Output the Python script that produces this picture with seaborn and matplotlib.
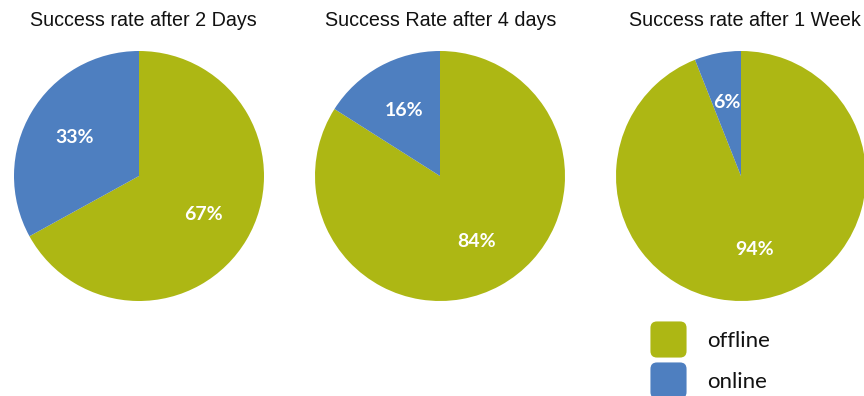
import matplotlib
matplotlib.use("Agg")
import matplotlib.pyplot as plt
import seaborn as sns
from matplotlib.lines import Line2D
from matplotlib.patches import BoxStyle

sns.set_theme(style="white")
plt.rcParams['font.family'] = ['Liberation Sans', 'DejaVu Sans']

titles = ["Success rate after 2 Days", "Success Rate after 4 days", "Success rate after 1 Week"]
categories = ["offline", "online"]
offline = [67, 84, 94]
online = [33, 16, 6]
colors = ["#ADB714", "#4E7FC0"]

W, H = 864, 396
fig = plt.figure(figsize=(W / 100, H / 100), dpi=100)

centers_x = [139, 440, 741]
title_x = [143, 441, 745]
R = 125
cy = 176

for i in range(3):
    ax = fig.add_axes([(centers_x[i] - R) / W, (H - cy - R) / H, 2 * R / W, 2 * R / H])
    vals = [offline[i], online[i]]
    wedges, texts, autotexts = ax.pie(
        vals, colors=colors, startangle=90, counterclock=False,
        autopct=lambda p: f"{p:.0f}%", pctdistance=0.6,
        wedgeprops=dict(linewidth=0),
        textprops=dict(color="white", fontsize=14, fontweight="bold", family="Lato"),
    )
    ax.set_xlim(-1, 1)
    ax.set_ylim(-1, 1)
    ax.set_aspect("equal")
    ax.axis("off")
    fig.text(title_x[i] / W, 1 - 20 / H, titles[i], ha="center", va="center",
             fontsize=14.2, color="#111111")

rpath = BoxStyle.Round(pad=0, rounding_size=0.18)(-0.5, -0.5, 1, 1, 1)
handles = [Line2D([], [], linestyle="none", marker=rpath, markersize=26,
                  markerfacecolor=c, markeredgewidth=0) for c in colors]
fig.legend(handles, categories, loc="upper left",
           bbox_to_anchor=(644 / W, 1 - 331 / H), frameon=False,
           prop=dict(family="Lato", size=16), labelspacing=0.95, labelcolor="#111111",
           handlelength=2.2, handletextpad=0.63, borderpad=0, borderaxespad=0)

fig.savefig("out.png", dpi=100)
